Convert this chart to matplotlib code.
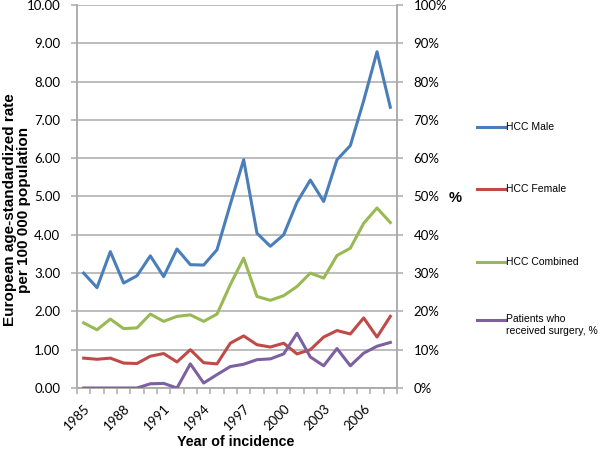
import matplotlib
matplotlib.use("Agg")
import matplotlib.pyplot as plt
from matplotlib.lines import Line2D
from matplotlib.ticker import FuncFormatter, MultipleLocator

# data
years = list(range(1985, 2009))
hcc_male = [3.00, 2.62, 3.56, 2.74, 2.93, 3.45, 2.91, 3.63, 3.22, 3.21, 3.61, 4.80,
            5.96, 4.04, 3.70, 4.00, 4.85, 5.43, 4.87, 5.96, 6.33, 7.50, 8.78, 7.33]
hcc_female = [0.78, 0.75, 0.78, 0.65, 0.64, 0.83, 0.90, 0.68, 1.00, 0.66, 0.63, 1.17,
              1.36, 1.13, 1.07, 1.17, 0.89, 1.00, 1.33, 1.50, 1.41, 1.83, 1.33, 1.87]
hcc_combined = [1.70, 1.52, 1.80, 1.55, 1.57, 1.93, 1.74, 1.87, 1.91, 1.74, 1.93, 2.70,
                3.39, 2.39, 2.29, 2.41, 2.65, 3.00, 2.87, 3.46, 3.65, 4.30, 4.70, 4.32]
surgery_pct = [0.0, 0.0, 0.0, 0.0, 0.0, 1.1, 1.2, 0.0, 6.3, 1.3, 3.5, 5.6,
               6.2, 7.4, 7.6, 8.9, 14.3, 8.1, 5.8, 10.3, 5.8, 9.1, 10.9, 11.9]

names = ["HCC Male", "HCC Female", "HCC Combined", "Patients who\nreceived surgery, %"]
colors = ["#4A7EBB", "#BE4B48", "#98B954", "#7D60A0"]
label_years = years[::3]

grid_col = "#ABABAB"
tick_font = "Lato"

fig = plt.figure(figsize=(6.09, 4.49), dpi=100)
ax = fig.add_axes([77/609, 61/449, 320/609, 383/449])
ax2 = ax.twinx()

lw = 2.2
ax.plot(years, hcc_male, color=colors[0], lw=lw, zorder=3)
ax.plot(years, hcc_female, color=colors[1], lw=lw, zorder=3)
ax.plot(years, hcc_combined, color=colors[2], lw=lw, zorder=3)
ax2.plot(years, [v/100 for v in surgery_pct], color=colors[3], lw=lw, zorder=3)

ax.set_xlim(years[0]-0.5, years[-1]+0.5)
ax.set_ylim(0, 10)
ax2.set_ylim(0, 1)
ax.yaxis.set_major_locator(MultipleLocator(1))
ax2.yaxis.set_major_locator(MultipleLocator(0.1))
ax.yaxis.set_major_formatter(FuncFormatter(lambda v, p: "%.2f" % v))
ax2.yaxis.set_major_formatter(FuncFormatter(lambda v, p: "%d%%" % round(v*100)))
ax.grid(axis="y", color=grid_col, lw=1.1, zorder=0)
ax.set_axisbelow(True)

# category axis: labels every 3 years, ticks between categories
ax.set_xticks(label_years)
ax.set_xticklabels([str(y) for y in label_years], rotation=45, ha="right",
                   rotation_mode="anchor", fontfamily=tick_font, fontsize=9.5)
ax.set_xticks([y - 0.5 for y in years] + [years[-1] + 0.5], minor=True)
ax.tick_params(axis="x", which="major", length=0, pad=10)
ax.tick_params(axis="x", which="minor", length=4, color=grid_col, width=1.1, direction="out")
ax.tick_params(axis="y", length=4, color=grid_col, width=1.1, pad=8)
ax2.tick_params(axis="y", length=4, color=grid_col, width=1.1, pad=8)
for lab in ax.get_yticklabels() + ax2.get_yticklabels():
    lab.set_fontfamily(tick_font)
    lab.set_fontsize(9.5)

for a in (ax, ax2):
    a.spines["top"].set_visible(False)
    for s in ("left", "right", "bottom"):
        a.spines[s].set_color(grid_col)
        a.spines[s].set_linewidth(1.1)

bold = dict(fontfamily="Liberation Sans", fontweight="bold")
fig.text(17/609, 1-210/449, "European age-standardized rate\nper 100 000 population",
         rotation=90, ha="center", va="center", fontsize=11, linespacing=1.05, **bold)
fig.text(236/609, 1-442/449, "Year of incidence", ha="center", va="center",
         fontsize=10.3, **bold)
fig.text(455/609, 1-198/449, "%", ha="center", va="center", fontsize=10.5, **bold)

# legend on the right, drawn by hand for the uneven spacing
leg_y = [127, 189, 262, 320]
for name, col, yy in zip(names, colors, leg_y):
    fig.add_artist(Line2D([477/609, 505/609], [1-yy/449, 1-yy/449], color=col, lw=lw))
    if "\n" in name:
        fig.text(506/609, 1-(yy-6)/449, name, ha="left", va="top",
                 fontfamily="Liberation Sans", fontsize=7.5, linespacing=1.25)
    else:
        fig.text(506/609, 1-yy/449, name, ha="left", va="center",
                 fontfamily="Liberation Sans", fontsize=7.5)

fig.savefig("out.png", dpi=100)
